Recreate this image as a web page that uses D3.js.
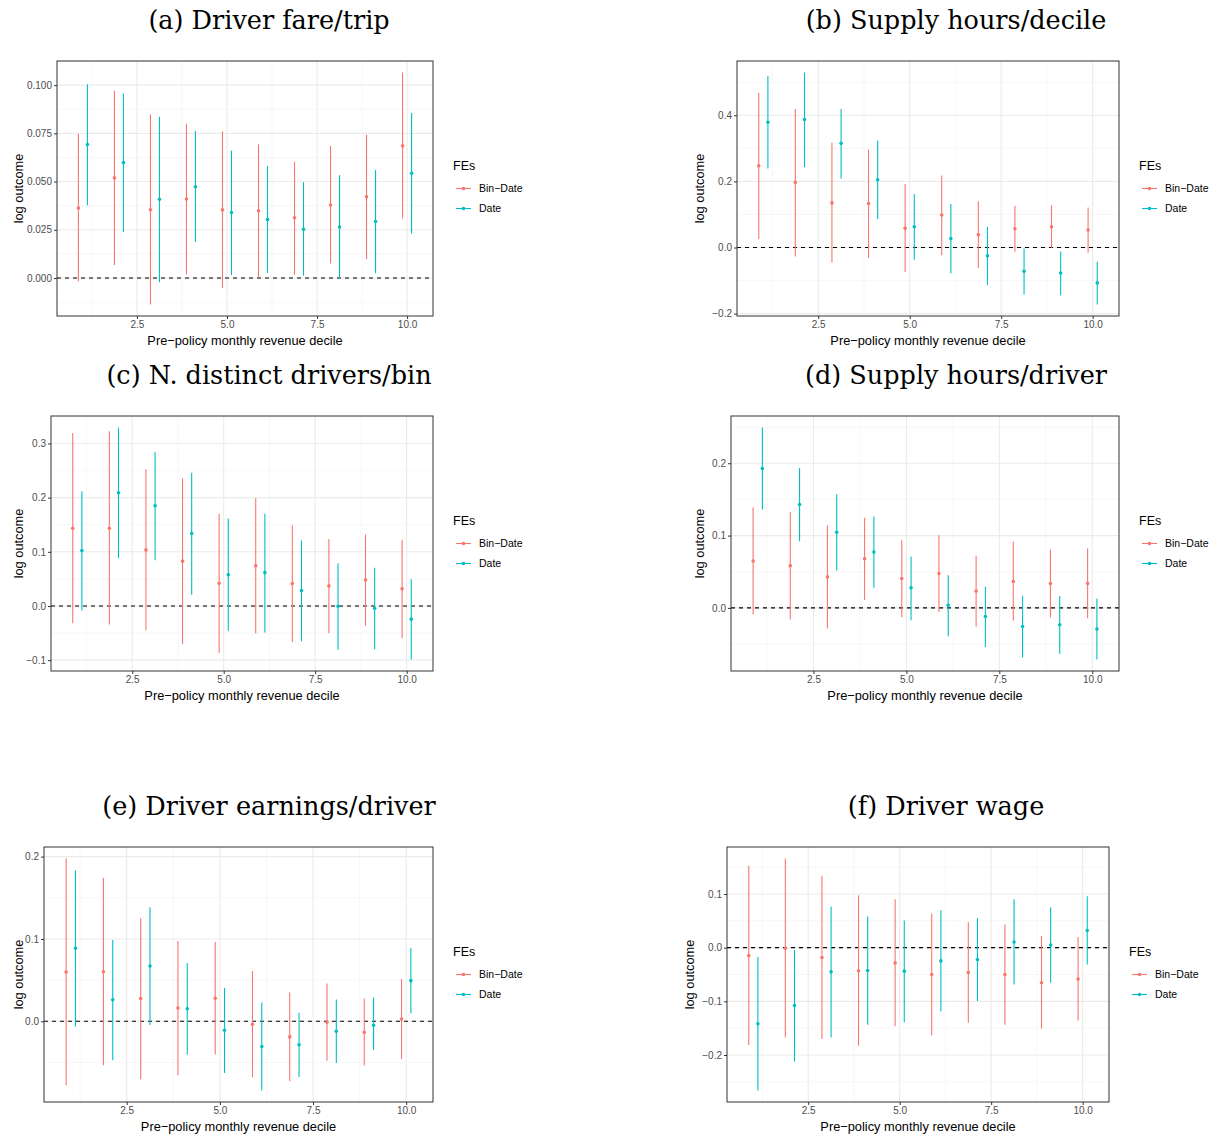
<!DOCTYPE html>
<html>
<head>
<meta charset="utf-8">
<script src="https://cdn.jsdelivr.net/npm/d3@7"></script>
<style>
body { margin: 0; background: #fff; }
svg text { font-family: "Liberation Sans", Arial, sans-serif; }
</style>
</head>
<body>
<script>
// deciles and the two fixed-effect specifications
var deciles = [1, 2, 3, 4, 5, 6, 7, 8, 9, 10];
var series = ["Bin\u2212Date", "Date"];

// each row: [estimate, lower, upper]
var fareBin = [[0.0363,-0.0017,0.0748],[0.0519,0.0067,0.0971],[0.0354,-0.0137,0.0848],[0.0409,0.0019,0.0800],[0.0353,-0.0053,0.0760],
	[0.0349,0.0003,0.0693],[0.0312,0.0017,0.0604],[0.0378,0.0075,0.0685],[0.0421,0.0099,0.0743],[0.0685,0.0308,0.1065]];
var fareDate = [[0.0692,0.0377,0.1005],[0.0598,0.0238,0.0957],[0.0408,-0.0022,0.0836],[0.0473,0.0187,0.0762],[0.0339,0.0015,0.0661],
	[0.0303,0.0026,0.0580],[0.0253,0.0012,0.0497],[0.0264,-0.0005,0.0533],[0.0293,0.0024,0.0560],[0.0543,0.0231,0.0856]];

var hoursBin = [[0.247,0.025,0.468],[0.197,-0.027,0.419],[0.135,-0.045,0.317],[0.133,-0.031,0.296],[0.058,-0.074,0.192],
	[0.098,-0.023,0.218],[0.039,-0.062,0.140],[0.057,-0.013,0.126],[0.063,-0.001,0.128],[0.053,-0.016,0.121]];
var hoursDate = [[0.379,0.239,0.519],[0.387,0.243,0.529],[0.315,0.209,0.419],[0.205,0.086,0.324],[0.063,-0.037,0.162],
	[0.027,-0.078,0.132],[-0.025,-0.113,0.062],[-0.072,-0.142,-0.003],[-0.077,-0.144,-0.012],[-0.107,-0.172,-0.043]];

var driversBin = [[0.1436,-0.032,0.3195],[0.1436,-0.034,0.3226],[0.1035,-0.045,0.2526],[0.0828,-0.070,0.2355],[0.042,-0.087,0.1704],
	[0.0743,-0.051,0.199],[0.0414,-0.067,0.1491],[0.0371,-0.0505,0.1236],[0.0481,-0.0365,0.132],[0.0316,-0.0596,0.1223]];
var driversDate = [[0.1022,-0.0085,0.2118],[0.2088,0.0883,0.3293],[0.185,0.0846,0.2836],[0.1339,0.0207,0.2459],[0.0578,-0.0456,0.1613],
	[0.0615,-0.0487,0.1704],[0.0286,-0.0651,0.1211],[-0.0006,-0.081,0.0791],[-0.0043,-0.0797,0.0706],[-0.0243,-0.0986,0.0493]];

var perDriverBin = [[0.0648,-0.0091,0.1388],[0.0584,-0.016,0.1329],[0.0429,-0.0283,0.1142],[0.068,0.011,0.1247],[0.0406,-0.0128,0.0936],
	[0.0475,-0.0059,0.1005],[0.0233,-0.026,0.0721],[0.0365,-0.0174,0.0913],[0.0338,-0.0132,0.0804],[0.0338,-0.0142,0.0822]];
var perDriverDate = [[0.1927,0.1361,0.2493],[0.1429,0.0922,0.1936],[0.1046,0.0516,0.1571],[0.0772,0.0279,0.1265],[0.0279,-0.0169,0.0712],
	[0.0037,-0.0393,0.0452],[-0.0119,-0.0539,0.0292],[-0.0256,-0.0685,0.0169],[-0.0233,-0.0635,0.0164],[-0.0292,-0.0712,0.0128]];

var earnBin = [[0.0598,-0.0775,0.1976],[0.0602,-0.0534,0.1743],[0.0277,-0.0703,0.1253],[0.0161,-0.0655,0.0976],[0.0281,-0.0402,0.0964],
	[-0.0036,-0.0679,0.061],[-0.0189,-0.0727,0.0349],[-0.0012,-0.0478,0.0458],[-0.0133,-0.0538,0.0277],[0.0028,-0.0458,0.0514]];
var earnDate = [[0.0888,-0.0064,0.1831],[0.0261,-0.0474,0.0988],[0.0671,-0.0044,0.1386],[0.0153,-0.0406,0.0707],[-0.0108,-0.0627,0.0406],
	[-0.0305,-0.0839,0.0229],[-0.0285,-0.0675,0.0104],[-0.012,-0.0506,0.0265],[-0.0048,-0.0349,0.0289],[0.0494,0.0096,0.0888]];

var wageBin = [[-0.0148,-0.1815,0.1525],[-0.0012,-0.1673,0.166],[-0.0185,-0.1704,0.134],[-0.0432,-0.1827,0.0975],[-0.0284,-0.1463,0.0901],
	[-0.05,-0.163,0.0636],[-0.0463,-0.1401,0.0475],[-0.05,-0.1438,0.0432],[-0.0654,-0.1506,0.0216],[-0.0586,-0.1358,0.0198]];
var wageDate = [[-0.142,-0.266,-0.0173],[-0.108,-0.2123,-0.0043],[-0.0451,-0.1673,0.0765],[-0.0426,-0.1438,0.058],[-0.0438,-0.1389,0.0506],
	[-0.0247,-0.1191,0.0698],[-0.0222,-0.0994,0.0549],[0.0105,-0.0685,0.0901],[0.0049,-0.0654,0.0753],[0.0321,-0.0315,0.0957]];

// tick values
var xTicks = [2.5, 5.0, 7.5, 10.0];
var fareTicks = [0, 0.025, 0.05, 0.075, 0.1];
var hoursTicks = [-0.2, 0, 0.2, 0.4];
var driversTicks = [-0.1, 0, 0.1, 0.2, 0.3];
var perDriverTicks = [0, 0.1, 0.2];
var earnTicks = [0, 0.1, 0.2];
var wageTicks = [-0.2, -0.1, 0, 0.1];

var colors = ["#F8766D", "#00BFC4"];
var dodge = 0.125;
var capHalf = 0.12;

var w = 1217;
var h = 1139;

var svg = d3.select("body")
			.append("svg")
			.attr("width", w)
			.attr("height", h);

var panels = [
	{title: "(a) Driver fare/trip", bin: fareBin, date: fareDate, ticks: fareTicks, fmt: ".3f",
		box: [57, 61, 433, 316], ylab: 23, tx: 269, ty: 29},
	{title: "(b) Supply hours/decile", bin: hoursBin, date: hoursDate, ticks: hoursTicks, fmt: ".1f",
		box: [737, 61, 1119, 316], ylab: 704, tx: 956, ty: 29},
	{title: "(c) N. distinct drivers/bin", bin: driversBin, date: driversDate, ticks: driversTicks, fmt: ".1f",
		box: [51, 416, 433, 671], ylab: 23, tx: 269, ty: 384},
	{title: "(d) Supply hours/driver", bin: perDriverBin, date: perDriverDate, ticks: perDriverTicks, fmt: ".1f",
		box: [731, 416, 1119, 671], ylab: 704, tx: 956, ty: 384},
	{title: "(e) Driver earnings/driver", bin: earnBin, date: earnDate, ticks: earnTicks, fmt: ".1f",
		box: [44, 847, 433, 1102], ylab: 23, tx: 269, ty: 815},
	{title: "(f) Driver wage", bin: wageBin, date: wageDate, ticks: wageTicks, fmt: ".1f",
		box: [727, 847, 1109, 1102], ylab: 694, tx: 946, ty: 815}
];

function expand(lo, hi) {
	var pad = (hi - lo) * 0.05;
	return [lo - pad, hi + pad];
}

function drawPanel(p) {
	var x0 = p.box[0], y0 = p.box[1], x1 = p.box[2], y1 = p.box[3];
	var g = svg.append("g");

	var xScale = d3.scaleLinear()
					.domain(expand(deciles[0] - dodge - capHalf, deciles[deciles.length - 1] + dodge + capHalf))
					.range([x0, x1]);

	var all = p.bin.concat(p.date);
	var yScale = d3.scaleLinear()
					.domain(expand(d3.min(all, function(d){ return d[1]; }), d3.max(all, function(d){ return d[2]; })))
					.range([y1, y0]);

	// minor gridlines half way between majors
	var step = p.ticks[1] - p.ticks[0];
	var yMinor = d3.range(p.ticks[0] - step / 2, p.ticks[p.ticks.length - 1] + step, step)
					.filter(function(v){ return v > yScale.domain()[0] && v < yScale.domain()[1]; });
	var xMinor = [1.25, 3.75, 6.25, 8.75];

	g.selectAll(".ymin").data(yMinor).enter().append("line")
		.attr("x1", x0).attr("x2", x1)
		.attr("y1", function(d){ return yScale(d); }).attr("y2", function(d){ return yScale(d); })
		.attr("stroke", "#f2f2f2").attr("stroke-width", 0.6);
	g.selectAll(".xmin").data(xMinor).enter().append("line")
		.attr("y1", y0).attr("y2", y1)
		.attr("x1", function(d){ return xScale(d); }).attr("x2", function(d){ return xScale(d); })
		.attr("stroke", "#f2f2f2").attr("stroke-width", 0.6);
	g.selectAll(".ymaj").data(p.ticks).enter().append("line")
		.attr("x1", x0).attr("x2", x1)
		.attr("y1", function(d){ return yScale(d); }).attr("y2", function(d){ return yScale(d); })
		.attr("stroke", "#ebebeb").attr("stroke-width", 1.1);
	g.selectAll(".xmaj").data(xTicks).enter().append("line")
		.attr("y1", y0).attr("y2", y1)
		.attr("x1", function(d){ return xScale(d); }).attr("x2", function(d){ return xScale(d); })
		.attr("stroke", "#ebebeb").attr("stroke-width", 1.1);

	// dashed zero line
	g.append("line")
		.attr("x1", x0).attr("x2", x1)
		.attr("y1", yScale(0)).attr("y2", yScale(0))
		.attr("stroke", "#000").attr("stroke-width", 1.1)
		.attr("stroke-dasharray", "4,4");

	[p.bin, p.date].forEach(function(rows, s) {
		var off = s === 0 ? -dodge : dodge;
		var sg = g.append("g");
		sg.selectAll("line").data(rows).enter().append("line")
			.attr("x1", function(d, i){ return xScale(deciles[i] + off); })
			.attr("x2", function(d, i){ return xScale(deciles[i] + off); })
			.attr("y1", function(d){ return yScale(d[1]); })
			.attr("y2", function(d){ return yScale(d[2]); })
			.attr("stroke", colors[s]).attr("stroke-width", 1.1);
		sg.selectAll("circle").data(rows).enter().append("circle")
			.attr("cx", function(d, i){ return xScale(deciles[i] + off); })
			.attr("cy", function(d){ return yScale(d[0]); })
			.attr("r", 1.8)
			.attr("fill", colors[s]);
	});

	// axes
	var xAxis = d3.axisBottom(xScale).tickValues(xTicks).tickFormat(d3.format(".1f")).tickSize(3).tickPadding(2);
	var yAxis = d3.axisLeft(yScale).tickValues(p.ticks).tickFormat(d3.format(p.fmt)).tickSize(3).tickPadding(2);

	var gx = g.append("g").attr("transform", "translate(0," + y1 + ")").call(xAxis);
	var gy = g.append("g").attr("transform", "translate(" + x0 + ",0)").call(yAxis);
	[gx, gy].forEach(function(a) {
		a.select(".domain").remove();
		a.selectAll("line").attr("stroke", "#333");
		a.selectAll("text").attr("fill", "#4d4d4d").style("font-size", "10px");
	});

	g.append("rect")
		.attr("x", x0).attr("y", y0)
		.attr("width", x1 - x0).attr("height", y1 - y0)
		.attr("fill", "none").attr("stroke", "#333").attr("stroke-width", 1);

	g.append("text")
		.attr("x", (x0 + x1) / 2).attr("y", y1 + 29)
		.attr("text-anchor", "middle")
		.style("font-size", "12.8px")
		.text("Pre\u2212policy monthly revenue decile");

	g.append("text")
		.attr("transform", "translate(" + p.ylab + "," + (y0 + y1) / 2 + ") rotate(-90)")
		.attr("text-anchor", "middle")
		.style("font-size", "12.8px")
		.text("log outcome");

	// title
	svg.append("text")
		.attr("x", p.tx).attr("y", p.ty)
		.attr("text-anchor", "middle")
		.style("font-family", "'DejaVu Serif', 'Liberation Serif', serif")
		.style("font-size", "25.5px")
		.text(p.title);

	// legend
	var lx = x1 + 20;
	var cy = (y0 + y1) / 2;
	g.append("text")
		.attr("x", lx).attr("y", cy - 19)
		.style("font-size", "12.5px")
		.text("FEs");
	series.forEach(function(s, i) {
		var ky = cy + i * 20;
		g.append("line")
			.attr("x1", lx + 3).attr("x2", lx + 18)
			.attr("y1", ky).attr("y2", ky)
			.attr("stroke", colors[i]).attr("stroke-width", 1.1);
		g.append("circle")
			.attr("cx", lx + 10.5).attr("cy", ky).attr("r", 1.8)
			.attr("fill", colors[i]);
		g.append("text")
			.attr("x", lx + 26).attr("y", ky + 3.6)
			.style("font-size", "10.5px")
			.text(s);
	});
}

panels.forEach(drawPanel);
</script>
</body>
</html>
